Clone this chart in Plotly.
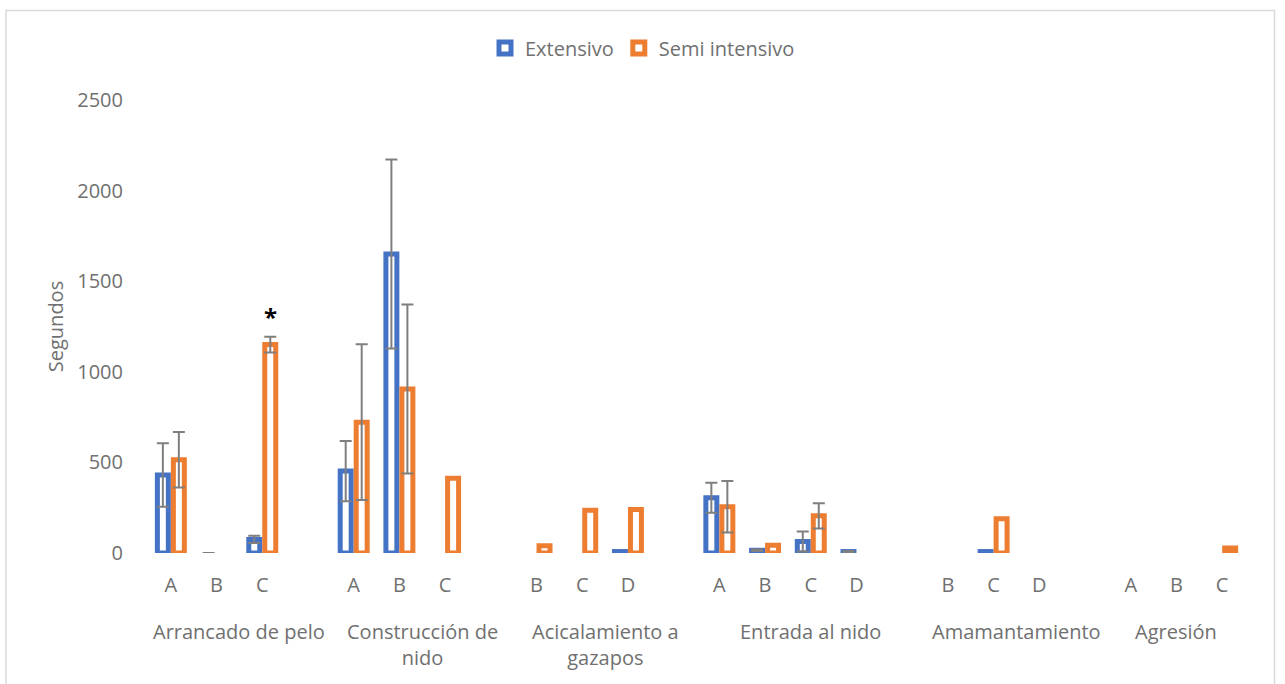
import plotly.graph_objects as go

# Behaviour groups and the sub-category labels shown under each group
grupos = ["Arrancado de pelo", "Construcción de<br>nido", "Acicalamiento a<br>gazapos",
          "Entrada al nido", "Amamantamiento", "Agresión"]
subcategorias = [["A", "B", "C"], ["A", "B", "C"], ["B", "C", "D"],
                 ["A", "B", "C", "D"], ["B", "C", "D"], ["A", "B", "C"]]

# Mean duration (seconds) per sub-category; None = no bar
extensivo = [[430, None, 75], [452, 1650, None], [None, None, 8],
             [305, 15, 63, 8], [None, 8, None], [None, None, None]]
semi_intensivo = [[515, None, 1150], [722, 905, 413], [40, 236, 240],
                  [255, 43, 205, None], [None, 189, None], [None, None, 28]]

# Error bar (+/-) per sub-category; None = no error bar drawn
extensivo_err = [[175, 0, 20], [166, 522, None], [None, None, None],
                 [83, 4, 55, 3], [None, None, None], [None, None, None]]
semi_intensivo_err = [[153, None, 43], [430, 466, None], [None, None, None],
                      [142, None, 70, None], [None, None, None], [None, None, None]]

series = ["Extensivo", "Semi intensivo"]
colores = ["#4472C4", "#ED7D31"]
y_ticks = [0, 500, 1000, 1500, 2000, 2500]

TEXT = "#707070"
FONT = "Open Sans"
BAR_W = 0.24      # bar width in category units
SHIFT = 0.175     # distance of each series' bar centre from the category centre

# Slot positions: one slot per sub-category, plus an empty slot between groups
posiciones, tick_text, centros = [], [], []
slot = 0
for g, subs in enumerate(subcategorias):
    inicio = slot
    for s in subs:
        posiciones.append(slot)
        tick_text.append(s)
        slot += 1
    ultimo = g == len(subcategorias) - 1
    fin = slot - 1 if ultimo else slot
    centros.append((inicio + fin) / 2)
    if not ultimo:
        slot += 1
ultima_pos = posiciones[-1]


def flat(nested):
    return [v for grp in nested for v in grp]


fig = go.Figure()

for nombre, color, valores, signo in zip(series, colores, [extensivo, semi_intensivo], [-1, 1]):
    fig.add_trace(go.Bar(
        name=nombre, x=posiciones, y=flat(valores),
        width=BAR_W, offset=signo * SHIFT - BAR_W / 2,
        marker=dict(color="white", line=dict(color=color, width=5)),
        hoverinfo="skip",
    ))

# Error bars drawn only where a deviation exists
for valores, errores, signo in zip([extensivo, semi_intensivo],
                                   [extensivo_err, semi_intensivo_err], [-1, 1]):
    xs, ys, es = [], [], []
    for x, v, e in zip(posiciones, flat(valores), flat(errores)):
        if e is not None:
            xs.append(x + signo * SHIFT)
            ys.append(v if v is not None else 0)
            es.append(e)
    fig.add_trace(go.Scatter(
        x=xs, y=ys, mode="markers", marker=dict(size=1, opacity=0),
        error_y=dict(type="data", array=es, symmetric=True,
                     color="#7F7F7F", thickness=2, width=6),
        showlegend=False, hoverinfo="skip",
    ))

# Group labels under the sub-category labels
for centro, nombre in zip(centros, grupos):
    fig.add_annotation(x=centro, y=-0.138, xref="x", yref="paper",
                       text=nombre, showarrow=False, yanchor="top",
                       font=dict(family=FONT, size=20, color=TEXT))

# Significance mark over Arrancado de pelo C (Semi intensivo)
fig.add_annotation(x=posiciones[2] + SHIFT, y=1305, xref="x", yref="y",
                   text="<b>*</b>", showarrow=False, yanchor="middle",
                   font=dict(family=FONT, size=24, color="black"))

# Chart frame
fig.add_shape(type="rect", xref="paper", yref="paper",
              x0=-0.1294, x1=1.0269, y0=-0.31, y1=1.1976,
              line=dict(color="#D9D9D9", width=1.5), layer="below")

fig.update_layout(
    width=1285, height=684,
    margin=dict(l=148, r=40, t=100, b=131),
    barmode="overlay",
    plot_bgcolor="white", paper_bgcolor="white",
    font=dict(family=FONT, size=20, color=TEXT),
    showlegend=True,
    legend=dict(orientation="h", xref="container", yref="container",
                x=0.5, xanchor="center", y=0.93, yanchor="middle",
                font=dict(family=FONT, size=20, color=TEXT),
                itemclick=False, itemdoubleclick=False),
    xaxis=dict(range=[-0.5, ultima_pos + 0.5], tickmode="array",
               tickvals=posiciones, ticktext=tick_text,
               showgrid=False, zeroline=False, showline=False,
               ticks="outside", ticklen=14, tickcolor="rgba(0,0,0,0)",
               tickfont=dict(family=FONT, size=20, color=TEXT)),
    yaxis=dict(range=[0, 2500], tickmode="array", tickvals=y_ticks,
               showgrid=False, zeroline=False, showline=False,
               ticks="outside", ticklen=20, tickcolor="rgba(0,0,0,0)",
               tickfont=dict(family=FONT, size=20, color=TEXT),
               title=dict(text="Segundos", standoff=8,
                          font=dict(family=FONT, size=20, color=TEXT))),
)

fig.write_html("out.html")
